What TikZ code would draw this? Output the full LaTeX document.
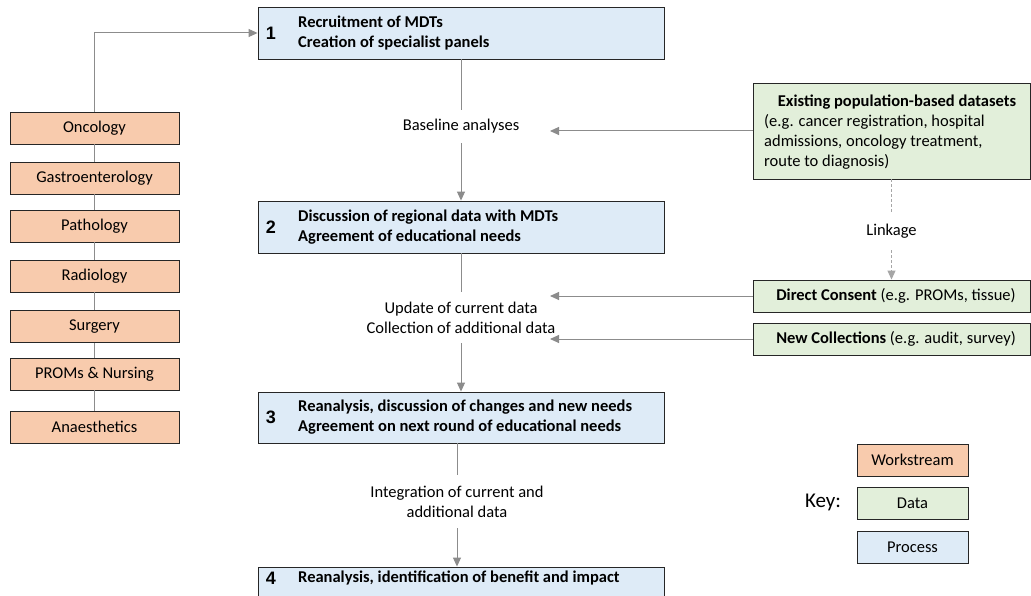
\documentclass[tikz,border=0pt]{standalone}
\usepackage{fontspec}
\setmainfont{Carlito}
\newfontfamily\numfont{Liberation Sans}
\usetikzlibrary{arrows.meta}
\definecolor{wscol}{HTML}{F8CBAD}
\definecolor{dtcol}{HTML}{E2EFDA}
\definecolor{prcol}{HTML}{DEEBF7}
\definecolor{lncol}{HTML}{8C8C8C}
\definecolor{dashcol}{HTML}{A6A6A6}
\definecolor{bordcol}{HTML}{262626}
\tikzset{
  txt/.style={font=\fontsize{16.5}{20}\selectfont, text=black},
  box/.style={draw=bordcol, line width=0.9pt, rectangle, inner sep=0pt},
  wsbox/.style={box, fill=wscol, minimum width=169pt, minimum height=32pt, txt},
  dtbox/.style={box, fill=dtcol, minimum width=277pt, minimum height=32pt, txt},
  prbox/.style={box, fill=prcol, minimum width=406pt, minimum height=52pt},
  keybox/.style={box, minimum width=111pt, minimum height=32pt, txt},
  numlab/.style={font=\numfont\bfseries\fontsize{18}{20}\selectfont, inner sep=0pt},
  prtext/.style={txt, font=\fontsize{16.5}{20}\selectfont\bfseries, align=left, anchor=west, inner sep=0pt},
  steplab/.style={txt, align=center, inner sep=0pt},
  conn/.style={draw=lncol, line width=1pt},
  arr/.style={conn, -{Triangle[length=9pt,width=8pt]}},
  dashconn/.style={draw=dashcol, line width=1pt, dash pattern=on 3pt off 2pt},
}
\begin{document}
\begin{tikzpicture}[x=1pt,y=-1pt]
\clip (0,0) rectangle (1031,596);
\fill[white] (0,0) rectangle (1031,596);

% process boxes
\node[prbox] (p1) at (461,33) {};
\node[numlab] (n1) at (271,33) {1};
\node[prtext] (t1) at (298,33) {Recruitment of MDTs\\Creation of specialist panels};

\node[prbox] (p2) at (461,227) {};
\node[numlab] (n2) at (271,227) {2};
\node[prtext] (t2) at (298,227) {Discussion of regional data with MDTs\\Agreement of educational needs};

\node[prbox, minimum height=51pt] (p3) at (461,417.5) {};
\node[numlab] (n3) at (271,417.5) {3};
\node[prtext] (t3) at (298,417.5) {Reanalysis, discussion of changes and new needs\\Agreement on next round of educational needs};

\node[prbox] (p4) at (461,593) {};
\node[numlab] (n4) at (271,578) {4};
\node[prtext] (t4) at (298,578) {Reanalysis, identification of benefit and impact};

% step labels
\node[steplab, minimum height=33pt] (l1) at (461,126.5) {Baseline analyses};
\node[steplab, minimum height=51pt] (l2) at (461,317.5) {Update of current data\\Collection of additional data};
\node[steplab, minimum height=53pt] (l3) at (457,501.5) {Integration of current and\\additional data};

\draw[conn] (p1.south) -- (l1.north);
\draw[arr] (l1.south) -- (p2.north);
\draw[conn] (p2.south) -- (l2.north);
\draw[arr] (l2.south) -- (p3.north);
\draw[conn] (l3.north |- p3.south) -- (l3.north);
\draw[arr] (l3.south) -- (l3.south |- p4.north);

% workstreams
\node[wsbox] (w1) at (94.5,128) {Oncology};
\node[wsbox] (w2) at (94.5,178) {Gastroenterology};
\node[wsbox] (w3) at (94.5,226) {Pathology};
\node[wsbox] (w4) at (94.5,276) {Radiology};
\node[wsbox] (w5) at (94.5,326.5) {Surgery};
\node[wsbox] (w6) at (94.5,374) {PROMs \& Nursing};
\node[wsbox] (w7) at (94.5,427) {Anaesthetics};
\draw[arr] (w1.north) |- (p1.west);
\draw[conn] (w1.south) -- (w2.north);
\draw[conn] (w2.south) -- (w3.north);
\draw[conn] (w3.south) -- (w4.north);
\draw[conn] (w4.south) -- (w5.north);
\draw[conn] (w5.south) -- (w6.north);
\draw[conn] (w6.south) -- (w7.north);

% data boxes
\node[dtbox, minimum height=96pt] (ex) at (891.5,131) {};
\node[txt, font=\fontsize{16.5}{20}\selectfont\bfseries, inner sep=0pt] (exh) at (897,102) {Existing population-based datasets};
\node[txt, align=left, anchor=west, inner sep=0pt] (exb) at (764,142) {(e.g. cancer registration, hospital\\admissions, oncology treatment,\\route to diagnosis)};

\node[dtbox] (dc) at (891.5,296) {};
\node[txt, inner sep=0pt] (dct) at (896,296) {\textbf{Direct Consent} (e.g. PROMs, tissue)};
\node[dtbox] (nc) at (891.5,339) {};
\node[txt, inner sep=0pt] (nct) at (896,339) {\textbf{New Collections} (e.g. audit, survey)};

\coordinate (c1) at (550,131);
\coordinate (c2) at (550,296);
\coordinate (c3) at (550,339);
\draw[arr] (ex.west) -- (c1);
\draw[arr] (dc.west) -- (c2);
\draw[arr] (nc.west) -- (c3);

\node[txt, minimum height=37pt, inner sep=0pt] (lk) at (891.5,231.5) {Linkage};
\draw[dashconn] (ex.south) -- (lk.north);
\draw[dashconn, -{Triangle[length=9pt,width=8pt]}] (lk.south) -- (dc.north);

% key
\node[font=\fontsize{21}{24}\selectfont, inner sep=0pt] (key) at (823,502) {Key:};
\node[keybox, fill=wscol] (k1) at (912.5,460) {Workstream};
\node[keybox, fill=dtcol] (k2) at (912.5,503.5) {Data};
\node[keybox, fill=prcol] (k3) at (912.5,547.5) {Process};
\end{tikzpicture}
\end{document}
